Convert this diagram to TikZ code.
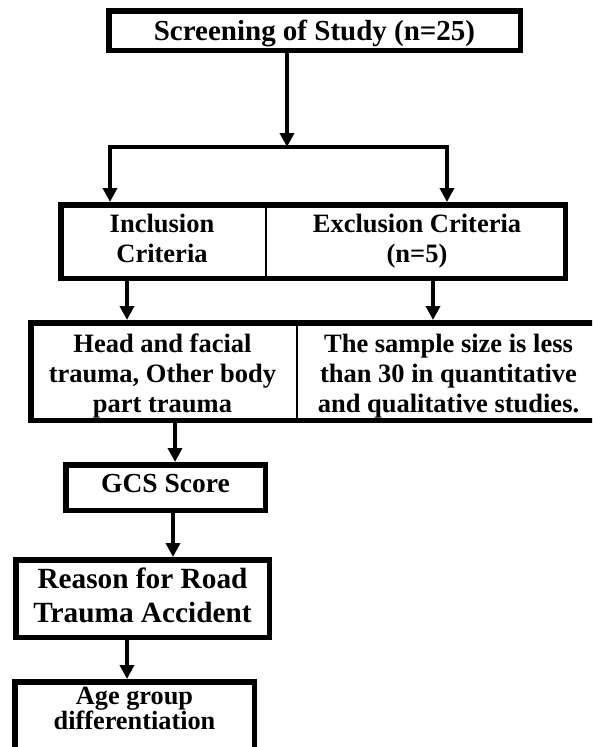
\documentclass[tikz,border=0pt]{standalone}
\usepackage{fontspec}
\setmainfont{Liberation Serif}
\usetikzlibrary{arrows.meta}
\begin{document}
\begin{tikzpicture}[x=1pt,y=1pt,
  box/.style={draw, line width=5.5pt, inner sep=0pt, align=center, anchor=base},
  cell/.style={inner sep=0pt, outer sep=0pt, align=center, anchor=base},
  frame/.style={line width=5.5pt},
  divider/.style={line width=2.2pt},
  arr/.style={line width=4.5pt, -{Triangle[length=14pt,width=14pt]}},
  link/.style={line width=3.5pt}]
\useasboundingbox (0,0) rectangle (592,-747);
\clip (0,0) rectangle (592,-747);

% top box
\node[box, minimum width=411.5pt, text height=29.25pt, text depth=10.25pt,
      font=\bfseries\fontsize{29}{34}\selectfont] (top) at (314.5,-40) {Screening of Study (n=25)};

% inclusion / exclusion (anchor = baseline of last line)
\node[cell, minimum width=208pt, text height=60pt, text depth=19pt,
      font=\bfseries\fontsize{26.5}{30}\selectfont] (inc) at (162,-262) {Inclusion\\Criteria};
\node[cell, minimum width=302pt, text height=60pt, text depth=19pt,
      font=\bfseries\fontsize{26.5}{30}\selectfont] (exc) at (417,-262) {Exclusion Criteria\\(n=5)};
\draw[divider] (inc.north east) -- (inc.south east);
\draw[frame] ([shift={(2.75,-2.75)}]inc.north west) rectangle ([shift={(-2.75,2.75)}]exc.south east);

% details pair
\node[cell, minimum width=269pt, text height=92pt, text depth=11pt,
      font=\bfseries\fontsize{26.5}{30}\selectfont] (lp) at (162.5,-412) {Head and facial\\trauma, Other body\\part trauma};
\node[cell, minimum width=303pt, text height=92pt, text depth=11pt,
      font=\bfseries\fontsize{26.5}{30}\selectfont] (rp) at (448.5,-412) {The sample size is less\\than 30 in quantitative\\and qualitative studies.};
\draw[divider] (lp.north east) -- (lp.south east);
\draw[frame] ([shift={(2.75,-2.75)}]lp.north west) rectangle ([shift={(-2.75,2.75)}]rp.south east);

% chain
\node[box, minimum width=199.5pt, text height=27.25pt, text depth=18.25pt,
      font=\bfseries\fontsize{27.5}{32}\selectfont] (gcs) at (165.5,-492) {GCS Score};
\node[box, minimum width=253.5pt, text height=62.25pt, text depth=15.25pt,
      font=\bfseries\fontsize{29.3}{34}\selectfont] (rsn) at (142.5,-622) {Reason for Road\\Trauma Accident};
\node[box, minimum width=239.5pt, text height=47.25pt, text depth=33.25pt,
      font=\bfseries\fontsize{26.3}{25}\selectfont] (age) at (134.5,-729) {Age group\\differentiation};

% connectors
\coordinate (split) at (287,-147);
\coordinate (bl) at (110,-147);
\coordinate (br) at (447,-147);
\draw[arr] (top.south -| split) -- (split);
\draw[link] (bl) -- (br);
\draw[arr] ([yshift=1.75pt]bl) -- (bl |- inc.north);
\draw[arr] ([yshift=1.75pt]br) -- (br |- exc.north);
\draw[arr] ([xshift=-35pt]inc.south) -- ([xshift=-35pt]inc.south |- lp.north);
\draw[arr] ([xshift=16pt]exc.south) -- ([xshift=16pt]exc.south |- rp.north);
\draw[arr] ([xshift=12.5pt]lp.south) -- ([xshift=12.5pt]lp.south |- gcs.north);
\draw[arr] ([xshift=7.5pt]gcs.south) -- ([xshift=7.5pt]gcs.south |- rsn.north);
\draw[arr] ([xshift=-15.5pt]rsn.south) -- ([xshift=-15.5pt]rsn.south |- age.north);
\end{tikzpicture}
\end{document}
